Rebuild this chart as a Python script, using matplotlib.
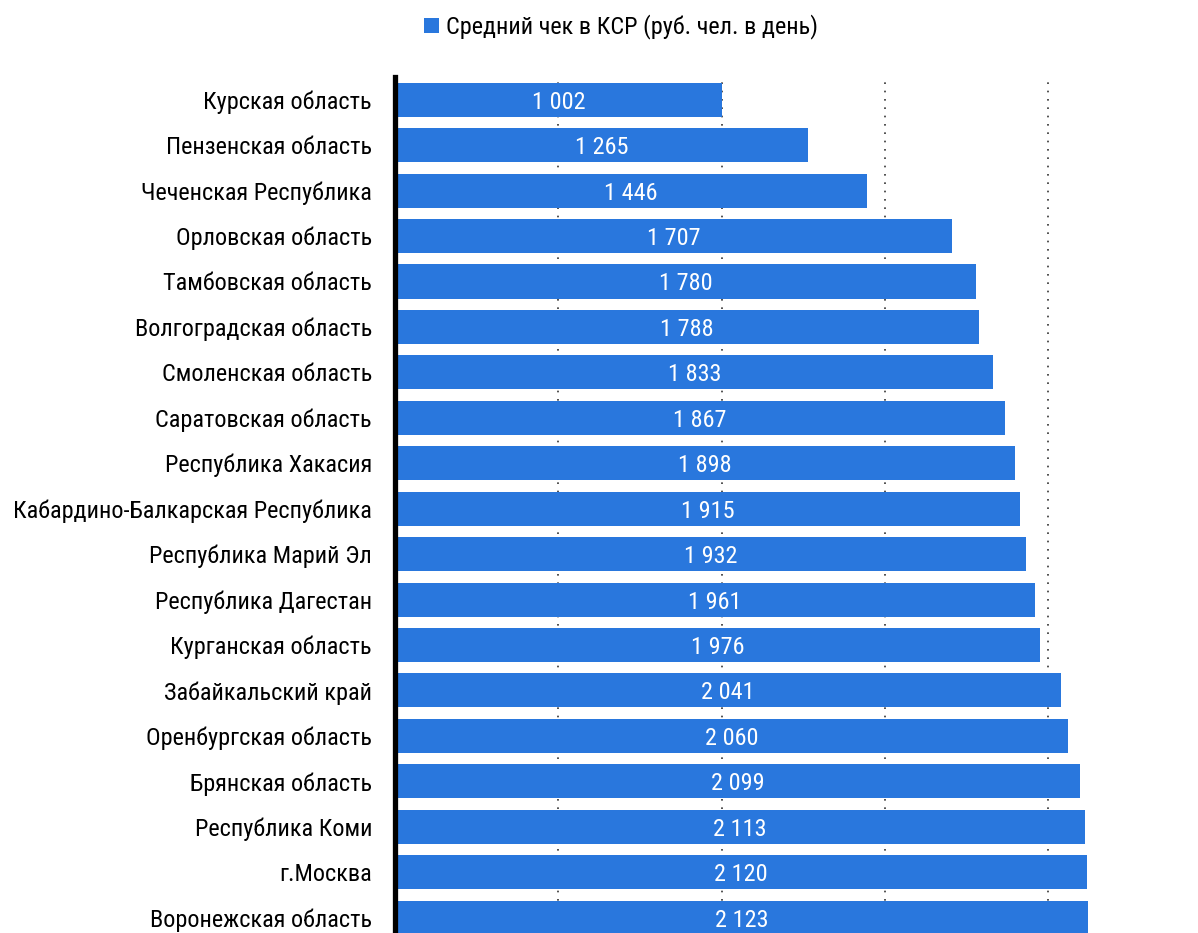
import matplotlib
matplotlib.use("Agg")
import matplotlib.pyplot as plt
from matplotlib.patches import Patch
from matplotlib import font_manager as fm

regions = [
    "Курская область", "Пензенская область", "Чеченская Республика",
    "Орловская область", "Тамбовская область", "Волгоградская область",
    "Смоленская область", "Саратовская область", "Республика Хакасия",
    "Кабардино-Балкарская Республика", "Республика Марий Эл",
    "Республика Дагестан", "Курганская область", "Забайкальский край",
    "Оренбургская область", "Брянская область", "Республика Коми",
    "г.Москва", "Воронежская область",
]
values = [1002, 1265, 1446, 1707, 1780, 1788, 1833, 1867, 1898, 1915,
          1932, 1961, 1976, 2041, 2060, 2099, 2113, 2120, 2123]
series_name = "Средний чек в КСР (руб. чел. в день)"
grid_ticks = [500, 1000, 1500, 2000]

# pick a condensed sans font if one is installed
chosen = None
cands = []
for f in fm.fontManager.ttflist:
    nm = f.name
    st = str(f.stretch)
    if ("Narrow" in nm or "Condensed" in nm or st in ("condensed", "semi-condensed")) \
            and f.style == "normal" and f.weight in (400, "normal", "regular"):
        cands.append(f)
pref = ["Liberation Sans Narrow", "Arial Narrow", "Roboto Condensed", "DejaVu Sans"]
for p in pref:
    for f in cands:
        if f.name == p:
            chosen = f
            break
    if chosen:
        break
if chosen is None and cands:
    chosen = cands[0]

if chosen is not None:
    fm.fontManager.addfont(chosen.fname)
    base_prop = fm.FontProperties(fname=chosen.fname)
else:
    base_prop = fm.FontProperties(family=["Liberation Sans", "DejaVu Sans"])

W, H = 1198, 933
fig = plt.figure(figsize=(W / 100, H / 100), dpi=100)
color = "#2977dd"

# size font so the longest label matches the reference width (~358 px)
renderer = fig.canvas.get_renderer()
probe = fig.text(0, 0, "Кабардино-Балкарская Республика", fontproperties=base_prop, fontsize=17.5)
wpx = probe.get_window_extent(renderer).width
probe.remove()
fs = min(18.5, 17.5 * 358.0 / wpx)

def fp():
    p = base_prop.copy()
    p.set_size(fs)
    return p

x0 = 395 / W
px_per_unit = 0.3265
xmax = (W - 395) / px_per_unit
top = 1 - 77 / H
row = 45.44
n = len(values)
height = n * row / H
ax = fig.add_axes([x0, top - height, 1 - x0, height])

ypos = list(range(n))
ax.barh(ypos, values, height=0.75, color=color, zorder=2)
for y, v in zip(ypos, values):
    s = f"{v:,}".replace(",", " ")
    ax.text(v / 2, y, s, ha="center", va="center_baseline", color="white",
            fontproperties=fp(), zorder=3)

ax.set_ylim(n - 0.5, -0.5)
ax.set_xlim(0, xmax)
ax.set_yticks(ypos)
ax.set_yticklabels(regions)
for lab in ax.get_yticklabels():
    lab.set_fontproperties(fp())
ax.tick_params(axis="y", length=0, pad=16.5)
ax.set_xticks(grid_ticks)
ax.tick_params(axis="x", length=0, labelbottom=False)
ax.grid(axis="x", color="#333333", linestyle=(0, (1, 4)), linewidth=1.2, zorder=1)
ax.set_axisbelow(True)
for sp in ["top", "right", "bottom"]:
    ax.spines[sp].set_visible(False)
ax.spines["left"].set_linewidth(3.8)
ax.spines["left"].set_color("black")
ax.spines["left"].set_zorder(4)

fig.legend(handles=[Patch(facecolor=color, label=series_name)],
           loc="center", bbox_to_anchor=(621 / W, 1 - 27 / H),
           frameon=False, prop=fp(), handlelength=0.6, handleheight=0.6,
           handletextpad=0.3)

fig.savefig("out.png", dpi=100)
